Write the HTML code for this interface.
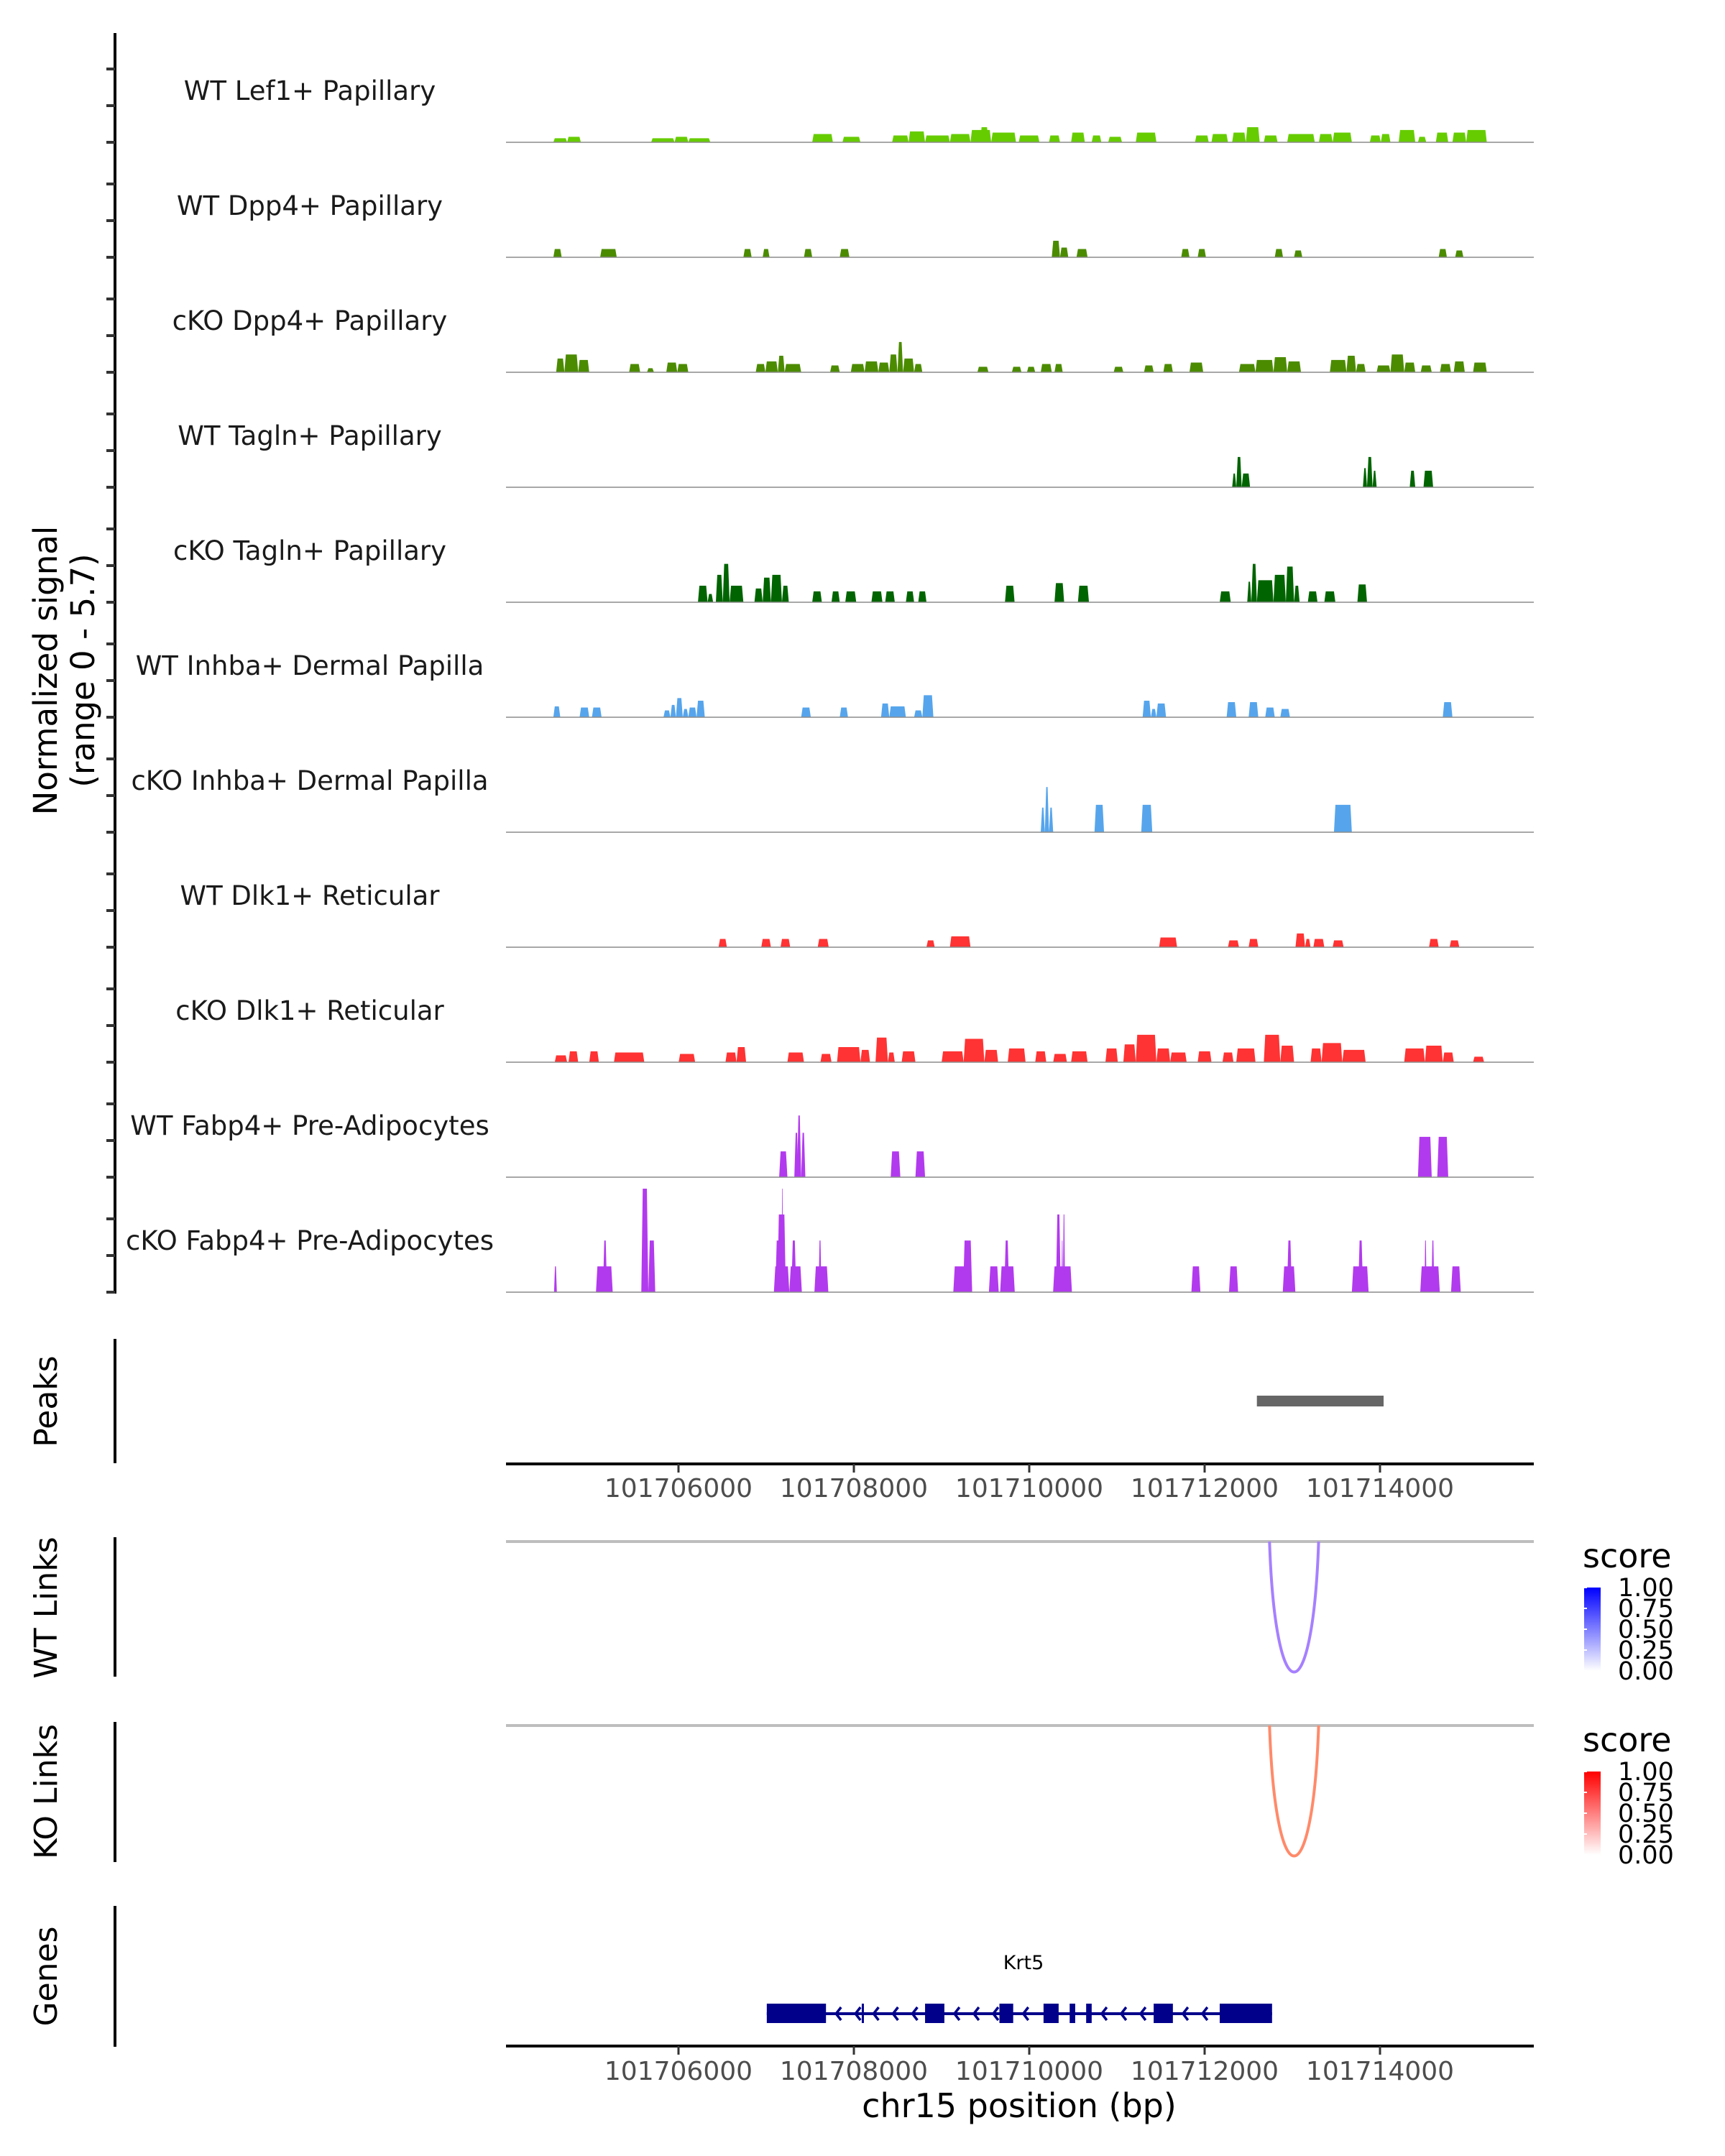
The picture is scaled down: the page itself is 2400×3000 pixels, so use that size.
<!DOCTYPE html>
<html><head><meta charset="utf-8"><title>Krt5 coverage plot</title>
<style>
html,body{margin:0;padding:0;background:#fff;}
svg{display:block;font-family:"DejaVu Sans","Liberation Sans",sans-serif;}
</style></head>
<body>
<svg id="chart" width="2400" height="3000" viewBox="0 0 2400 3000" xmlns="http://www.w3.org/2000/svg">
<rect width="2400" height="3000" fill="#fff"/>
<defs>
<linearGradient id="gBlue" x1="0" y1="1" x2="0" y2="0"><stop offset="0" stop-color="#ffffff"/><stop offset="1" stop-color="#0000ff"/></linearGradient>
<linearGradient id="gRed" x1="0" y1="1" x2="0" y2="0"><stop offset="0" stop-color="#ffffff"/><stop offset="1" stop-color="#ff0000"/></linearGradient>
</defs>
<g id="tracks"></g>
<g id="panels"></g>
</svg>
<script>
// ---- data ----
const trackNames = ["WT Lef1+ Papillary","WT Dpp4+ Papillary","cKO Dpp4+ Papillary","WT Tagln+ Papillary","cKO Tagln+ Papillary","WT Inhba+ Dermal Papilla","cKO Inhba+ Dermal Papilla","WT Dlk1+ Reticular","cKO Dlk1+ Reticular","WT Fabp4+ Pre-Adipocytes","cKO Fabp4+ Pre-Adipocytes"];
const trackColors = ["#66cc00","#4b8b00","#4b8b00","#006400","#006400","#56a5ec","#56a5ec","#ff3333","#ff3333","#b23aee","#b23aee"];
const xTicks = [101706000,101708000,101710000,101712000,101714000];
const xTickLabels = ["101706000","101708000","101710000","101712000","101714000"];
const signalRange = [0, 5.7];

const wtLef1 = [[101704573,101704730,0.20],[101704730,101704887,0.27],[101705688,101705955,0.20],[101705955,101706112,0.27],[101706112,101706363,0.20],[101707525,101707761,0.41],[101707870,101708075,0.27],[101708436,101708624,0.34],[101708624,101708812,0.54],[101708812,101709095,0.34],[101709095,101709330,0.41],[101709330,101709566,0.61],[101709440,101709535,0.75],[101709566,101709849,0.48],[101709880,101710116,0.34],[101710225,101710351,0.34],[101710477,101710634,0.48],[101710712,101710822,0.34],[101710901,101711058,0.27],[101711215,101711450,0.48],[101711890,101712047,0.34],[101712078,101712266,0.41],[101712314,101712470,0.48],[101712470,101712628,0.75],[101712675,101712832,0.34],[101712942,101713256,0.41],[101713303,101713460,0.41],[101713460,101713679,0.48],[101713884,101714009,0.34],[101714009,101714119,0.41],[101714213,101714402,0.61],[101714433,101714527,0.27],[101714637,101714778,0.48],[101714826,101714983,0.48],[101714983,101715218,0.61]];
const wtDpp4 = [[101704573,101704668,0.41],[101705107,101705296,0.41],[101706740,101706834,0.41],[101706960,101707038,0.41],[101707431,101707525,0.41],[101707839,101707949,0.41],[101710257,101710351,0.82],[101710351,101710445,0.48],[101710539,101710665,0.41],[101711733,101711827,0.41],[101711921,101712015,0.41],[101712800,101712894,0.41],[101713020,101713114,0.34],[101714669,101714763,0.41],[101714857,101714951,0.34]];
const koDpp4 = [[101704605,101704699,0.68],[101704699,101704856,0.88],[101704856,101704982,0.61],[101705437,101705563,0.41],[101705641,101705720,0.20],[101705861,101705986,0.48],[101705986,101706112,0.41],[101706881,101706991,0.41],[101706991,101707133,0.54],[101707133,101707211,0.82],[101707211,101707399,0.41],[101707729,101707839,0.34],[101707965,101708122,0.41],[101708122,101708279,0.54],[101708279,101708404,0.48],[101708404,101708498,0.88],[101708498,101708561,1.50],[101708561,101708687,0.68],[101708687,101708781,0.41],[101709409,101709535,0.27],[101709802,101709911,0.27],[101709974,101710068,0.27],[101710131,101710257,0.41],[101710288,101710382,0.41],[101710963,101711073,0.27],[101711309,101711419,0.34],[101711529,101711638,0.41],[101711827,101711984,0.48],[101712392,101712580,0.41],[101712580,101712785,0.61],[101712785,101712942,0.75],[101712942,101713099,0.54],[101713428,101713617,0.61],[101713617,101713727,0.82],[101713727,101713836,0.41],[101713962,101714119,0.34],[101714119,101714276,0.88],[101714276,101714402,0.48],[101714464,101714590,0.34],[101714684,101714810,0.41],[101714841,101714967,0.54],[101715061,101715218,0.48]];
const wtTagln = [[101712314,101712361,0.68],[101712361,101712423,1.50],[101712423,101712518,0.68],[101713805,101713852,0.95],[101713852,101713915,1.50],[101713915,101713962,0.82],[101714339,101714402,0.82],[101714496,101714606,0.82]];
const koTagln = [[101706222,101706332,0.82],[101706332,101706395,0.41],[101706426,101706505,1.36],[101706505,101706583,1.90],[101706583,101706740,0.82],[101706866,101706960,0.68],[101706960,101707054,1.22],[101707054,101707180,1.36],[101707180,101707258,0.82],[101707525,101707635,0.54],[101707745,101707839,0.54],[101707902,101708027,0.54],[101708200,101708326,0.54],[101708357,101708467,0.54],[101708593,101708687,0.54],[101708734,101708828,0.54],[101709723,101709833,0.82],[101710288,101710398,0.95],[101710555,101710681,0.82],[101712172,101712298,0.54],[101712486,101712533,1.02],[101712533,101712596,1.90],[101712596,101712785,1.09],[101712785,101712926,1.36],[101712926,101713020,1.77],[101713020,101713083,0.82],[101713177,101713287,0.54],[101713365,101713491,0.54],[101713742,101713852,0.88]];
const wtInhba = [[101704573,101704652,0.54],[101704872,101704982,0.48],[101705013,101705123,0.48],[101705829,101705908,0.34],[101705908,101705971,0.61],[101705971,101706049,0.95],[101706049,101706112,0.41],[101706112,101706206,0.48],[101706206,101706300,0.82],[101707399,101707509,0.48],[101707839,101707933,0.48],[101708310,101708404,0.68],[101708404,101708593,0.54],[101708687,101708781,0.34],[101708781,101708907,1.09],[101711293,101711387,0.82],[101711387,101711450,0.41],[101711450,101711560,0.68],[101712251,101712361,0.75],[101712502,101712612,0.75],[101712691,101712800,0.48],[101712863,101712973,0.41],[101714716,101714826,0.75]];
const koInhba = [[101710131,101710178,1.22],[101710178,101710225,2.24],[101710225,101710273,1.22],[101710744,101710853,1.36],[101711277,101711403,1.36],[101713475,101713679,1.36]];
const wtDlk1 = [[101706457,101706552,0.41],[101706944,101707054,0.41],[101707164,101707274,0.41],[101707588,101707713,0.41],[101708828,101708922,0.34],[101709095,101709330,0.54],[101711481,101711686,0.48],[101712266,101712392,0.34],[101712502,101712612,0.41],[101713036,101713146,0.68],[101713146,101713208,0.41],[101713240,101713365,0.41],[101713460,101713585,0.34],[101714559,101714669,0.41],[101714794,101714904,0.34]];
const koDlk1 = [[101704589,101704730,0.34],[101704746,101704856,0.54],[101704982,101705092,0.54],[101705264,101705610,0.48],[101706002,101706190,0.41],[101706536,101706662,0.48],[101706662,101706771,0.75],[101707242,101707431,0.48],[101707619,101707745,0.41],[101707808,101708075,0.75],[101708075,101708184,0.61],[101708247,101708388,1.22],[101708388,101708467,0.48],[101708545,101708702,0.54],[101709001,101709252,0.54],[101709252,101709488,1.16],[101709488,101709645,0.61],[101709755,101709958,0.68],[101710068,101710194,0.54],[101710273,101710430,0.41],[101710477,101710665,0.54],[101710869,101711010,0.68],[101711073,101711215,0.88],[101711215,101711450,1.36],[101711450,101711607,0.68],[101711607,101711795,0.48],[101711921,101712078,0.54],[101712204,101712329,0.48],[101712361,101712580,0.68],[101712675,101712863,1.36],[101712863,101713020,0.82],[101713208,101713334,0.68],[101713334,101713570,0.95],[101713570,101713836,0.61],[101714276,101714512,0.68],[101714512,101714716,0.82],[101714716,101714841,0.48],[101715061,101715187,0.27]];
const wtFabp4 = [[101707148,101707242,1.28],[101707321,101707368,2.20],[101707352,101707399,3.06],[101707399,101707447,2.20],[101708420,101708530,1.28],[101708702,101708812,1.28],[101714433,101714590,2.00],[101714653,101714778,2.00]];
const koFabp4 = [[101704581,101704613,1.28],[101705059,101705250,1.28],[101705138,101705186,2.56],[101705576,101705656,5.13],[101705656,101705735,2.56],[101707088,101707264,1.28],[101707104,101707224,2.56],[101707128,101707224,3.85],[101707176,101707192,5.13],[101707264,101707407,1.28],[101707287,101707343,2.56],[101707550,101707709,1.28],[101707598,101707630,2.56],[101709134,101709349,1.28],[101709246,101709349,2.56],[101709540,101709652,1.28],[101709668,101709835,1.28],[101709715,101709771,2.56],[101710272,101710487,1.28],[101710304,101710360,3.85],[101710368,101710384,2.56],[101710384,101710408,3.85],[101711849,101711952,1.28],[101712278,101712382,1.28],[101712891,101713035,1.28],[101712939,101712995,2.56],[101713679,101713870,1.28],[101713751,101713807,2.56],[101714459,101714682,1.28],[101714507,101714531,2.56],[101714587,101714619,2.56],[101714810,101714921,1.28]];
const trackData = [wtLef1,wtDpp4,koDpp4,wtTagln,koTagln,wtInhba,koInhba,wtDlk1,koDlk1,wtFabp4,koFabp4];

const peakStarts = [101712596];
const peakEnds = [101714041];
const wtLinkStart = [101712740];
const wtLinkEnd = [101713300];
const wtLinkScore = [0.35];
const koLinkStart = [101712740];
const koLinkEnd = [101713300];
const koLinkScore = [0.45];
const exonStarts = [101707007,101708090,101708812,101709660,101710163,101710461,101710649,101711419,101712172];
const exonEnds   = [101707682,101708110,101709032,101709817,101710335,101710524,101710712,101711638,101712769];
const geneName = "Krt5";
const legendTicks = [1.00,0.75,0.50,0.25,0.00];

// ---- scales ----
const X0 = 704, X1 = 2134;
const BP0 = 101704033, BP1 = 101715754;
function xs(bp){ return X0 + (bp - BP0) / (BP1 - BP0) * (X1 - X0); }
const TRACK_TOP_BASE = 198, TRACK_STEP = 160, TRACK_H = 160;
function ys(v, base){ return base - (v - signalRange[0]) / (signalRange[1] - signalRange[0]) * TRACK_H; }

const NS = "http://www.w3.org/2000/svg";
function mk(tag, attrs, parent){
  const e = document.createElementNS(NS, tag);
  for (const k in attrs) e.setAttribute(k, attrs[k]);
  parent.appendChild(e);
  return e;
}
const T = document.getElementById('tracks');
const P = document.getElementById('panels');

let ax = mk('line',{x1:160,y1:46,x2:160,y2:1800,stroke:'#000','stroke-width':4},T);



trackNames.forEach((name,i)=>{
  const base = TRACK_TOP_BASE + TRACK_STEP*i;
  const g = mk('g',{},T);
  
  
  [0,51,102].forEach(d=>{
    const t = mk('line',{x1:148,y1:base-d,x2:160,y2:base-d,stroke:'#333','stroke-width':4},g);
    
    
  });
  const lbl = mk('text',{x:431,y:base-59,'font-size':37,'text-anchor':'middle',fill:'#1a1a1a'},g);
  lbl.textContent = name;
  
  
  trackData[i].forEach(b=>{
    const xa = xs(b[0]), xb = xs(b[1]);
    const s = Math.min(2, (xb-xa)/3);
    const yt = ys(b[2], base);
    const poly = mk('polygon',{points:`${xa},${base} ${xa+s},${yt} ${xb-s},${yt} ${xb},${base}`,fill:trackColors[i]},g);
    
    
  });
  const bl = mk('line',{x1:X0,y1:base,x2:X1,y2:base,stroke:'#8c8c8c','stroke-width':1.5},g);
  
  
});

const yt1 = mk('text',{x:0,y:0,'font-size':45,'text-anchor':'middle',fill:'#000',transform:'translate(79,933) rotate(-90)'},T);
yt1.textContent='Normalized signal';


const yt2 = mk('text',{x:0,y:0,'font-size':45,'text-anchor':'middle',fill:'#000',transform:'translate(131,933) rotate(-90)'},T);
yt2.textContent='(range 0 - 5.7)';



function panelLabel(text, cy, y1, y2, name){
  const l = mk('line',{x1:160,y1:y1,x2:160,y2:y2,stroke:'#000','stroke-width':4},P);
  
  
  const t = mk('text',{x:0,y:0,'font-size':44,'text-anchor':'middle',fill:'#000',transform:`translate(79,${cy}) rotate(-90)`},P);
  t.textContent = text;
  
  
}
panelLabel('Peaks',1950,1863,2036,'peaks');
panelLabel('WT Links',2237,2139,2333,'wt-links');
panelLabel('KO Links',2493,2396,2591,'ko-links');
panelLabel('Genes',2750,2652,2848,'genes');

peakStarts.forEach((s,i)=>{
  const r = mk('rect',{x:xs(s),y:1942,width:xs(peakEnds[i])-xs(s),height:15,fill:'#666'},P);
  
  
});

function xAxis(y, ly, name){
  const l = mk('line',{x1:X0,y1:y,x2:X1,y2:y,stroke:'#000','stroke-width':4},P);
  
  
  xTicks.forEach((v,i)=>{
    const t = mk('line',{x1:xs(v),y1:y,x2:xs(v),y2:y+12,stroke:'#333','stroke-width':3},P);
    
    
    const tx = mk('text',{x:xs(v),y:ly,'font-size':36,'text-anchor':'middle',fill:'#4d4d4d'},P);
    tx.textContent = xTickLabels[i];
    
    
  });
}
xAxis(2037,2083,'peaks-x-axis');
xAxis(2847,2894,'genes-x-axis');
const xt = mk('text',{x:1418,y:2946,'font-size':46,'text-anchor':'middle',fill:'#000'},P);
xt.textContent='chr15 position (bp)';



function links(lineY, bottomY, starts, ends, scores, color, grad, legY, name){
  const gl = mk('line',{x1:X0,y1:lineY,x2:X1,y2:lineY,stroke:'#bebebe','stroke-width':4},P);
  
  
  starts.forEach((s,i)=>{
    const a = xs(s), b = xs(ends[i]);
    const depth = bottomY - lineY;
    const p = mk('path',{fill:'none',stroke:color,'stroke-width':4},P);
    p.setAttribute('d',`M${a},${lineY} C${a+(b-a)*0.12},${lineY+depth*1.33} ${b-(b-a)*0.12},${lineY+depth*1.33} ${b},${lineY}`);
    
    
  });
  const st = mk('text',{x:2202,y:legY,'font-size':46,fill:'#000'},P);
  st.textContent='score';
  
  
  const top = legY+28, h = 116;
  const r = mk('rect',{x:2204,y:top,width:23,height:h,fill:`url(#${grad})`},P);
  
  
  legendTicks.forEach(v=>{
    const y = top + (1-v)*h;
    const tk = mk('line',{x1:2204,y1:y,x2:2208,y2:y,stroke:'#fff','stroke-width':2},P);
    
    
    const tx = mk('text',{x:2251,y:y+12,'font-size':35,fill:'#000'},P);
    tx.textContent = v.toFixed(2);
    
    
  });
}
links(2145,2327,wtLinkStart,wtLinkEnd,wtLinkScore,'#a680ff','gBlue',2181,'wt-links');
links(2401,2583,koLinkStart,koLinkEnd,koLinkScore,'#ff8a6a','gRed',2437,'ko-links');

const gx0 = xs(exonStarts[0]), gx1 = xs(exonEnds[exonEnds.length-1]);
const gl = mk('line',{x1:gx0,y1:2802,x2:gx1,y2:2802,stroke:'#00008b','stroke-width':4},P);


for (let i=0;i<exonStarts.length-1;i++){
  const a = xs(exonEnds[i]) + 10, b = xs(exonStarts[i+1]) - 6;
  for (let x=a+4; x<=b; x+=27){
    const ch = mk('polyline',{points:`${x+7},${2793} ${x},${2802} ${x+7},${2811}`,fill:'none',stroke:'#00008b','stroke-width':3.5},P);
    
    
  }
}
exonStarts.forEach((s,i)=>{
  const r = mk('rect',{x:xs(s),y:2788,width:Math.max(3,xs(exonEnds[i])-xs(s)),height:27,fill:'#00008b'},P);
  
  
});
const gn = mk('text',{x:1424,y:2740,'font-size':27,'text-anchor':'middle',fill:'#000'},P);
gn.textContent = geneName;


</script>
</body></html>
